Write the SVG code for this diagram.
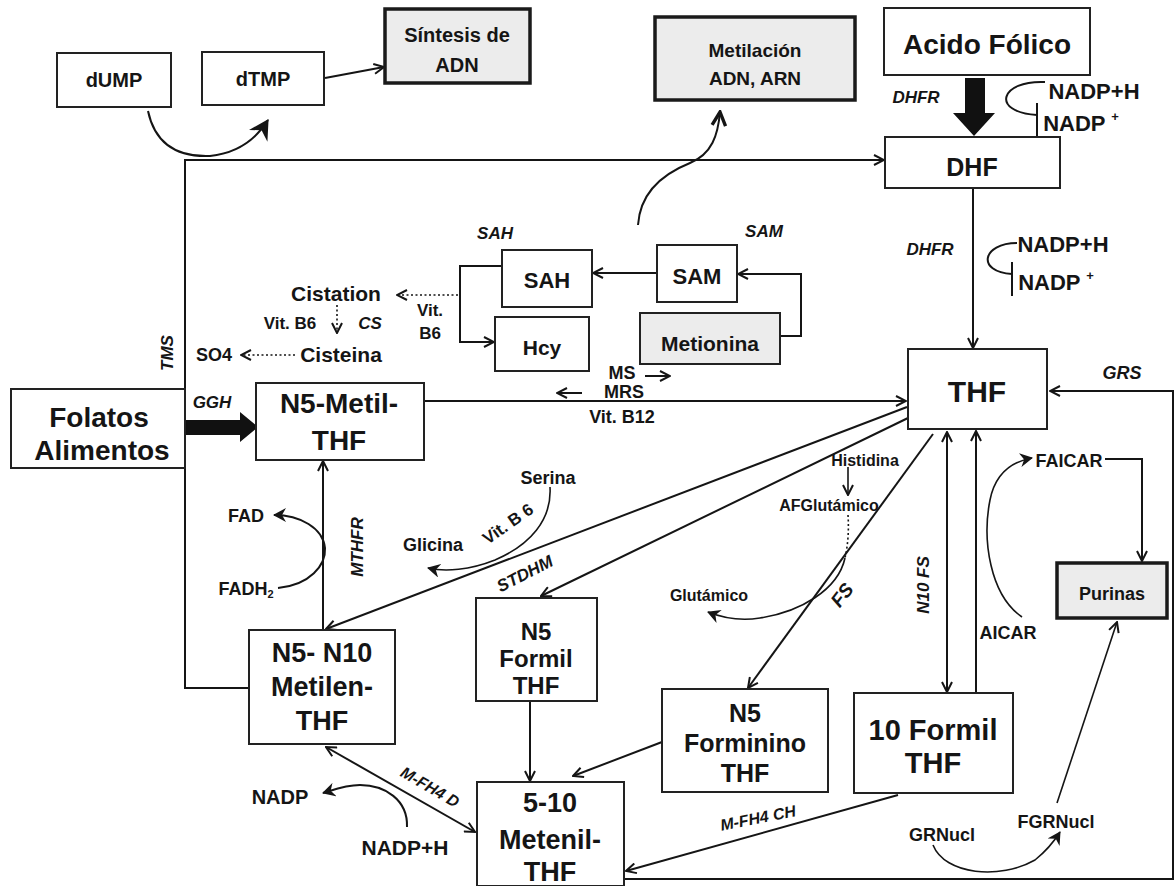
<svg xmlns="http://www.w3.org/2000/svg" width="1176" height="886" viewBox="0 0 1176 886">
<defs>
<style>
text{font-family:"Liberation Sans",Arial,sans-serif;font-weight:bold;fill:#151515;text-anchor:middle;dominant-baseline:central}
.box{fill:#fff;stroke:#222;stroke-width:2}
.gbox{fill:#ececec;stroke:#1a1a1a;stroke-width:3.5}
.gbox2{fill:#ececec;stroke:#222;stroke-width:2}
.ln{fill:none;stroke:#151515;stroke-width:2}
.thin{fill:none;stroke:#151515;stroke-width:1.6}
.dot{fill:none;stroke:#151515;stroke-width:1.6;stroke-dasharray:2 2.5}
.it{font-style:italic}
.s{font-size:16px}
.m{font-size:18px}
</style>
<marker id="a" viewBox="0 0 12 12" refX="11" refY="6" markerWidth="12" markerHeight="12" markerUnits="userSpaceOnUse" orient="auto-start-reverse">
<path d="M1,1 L11,6 L1,11" fill="none" stroke="#151515" stroke-width="2"/>
</marker>
<marker id="f" viewBox="0 0 14 14" refX="12" refY="7" markerWidth="14" markerHeight="14" markerUnits="userSpaceOnUse" orient="auto">
<path d="M0,0 L13,7 L0,14 L4,7 Z" fill="#151515"/>
</marker>
<marker id="fb" viewBox="0 0 20 20" refX="17" refY="10" markerWidth="22" markerHeight="22" markerUnits="userSpaceOnUse" orient="auto">
<path d="M0,0 L18,10 L0,20 L6,10 Z" fill="#151515"/>
</marker>
<marker id="ab" viewBox="0 0 16 16" refX="14" refY="8" markerWidth="18" markerHeight="18" markerUnits="userSpaceOnUse" orient="auto">
<path d="M2,2 L14,8 L2,14" fill="none" stroke="#151515" stroke-width="3"/>
</marker>
</defs>
<rect width="1176" height="886" fill="#fff"/>

<g id="connectors">
<path class="ln" d="M148,111 Q158,158 210,156 Q248,152 268,120" marker-end="url(#fb)"/>
<path class="ln" d="M325,78 L384,67" marker-end="url(#a)"/>
<path class="ln" d="M249,688 L185,688 L185,160 L884,160" marker-end="url(#a)"/>
<path class="ln" d="M638,225 C640,195 660,175 690,163 C712,154 718,135 720,112" stroke-width="2.5" marker-end="url(#ab)"/>
<path d="M965,78 L985,78 L985,113 L995,113 L974,136 L953,113 L965,113 Z" fill="#111"/>
<path class="ln" d="M1045,82 C1000,80 990,112 1037,115"/>
<path class="ln" d="M1037,103 L1037,137"/>
<path class="ln" d="M973,189 L973,348" marker-end="url(#a)"/>
<path class="ln" d="M1017,243 C982,243 976,272 1012,274"/>
<path class="ln" d="M1012,262 L1012,296"/>
<path class="ln" d="M657,273 L593,273" marker-end="url(#a)"/>
<path class="ln" d="M780,336 L801,336 L801,274 L738,274" marker-end="url(#a)"/>
<path class="ln" d="M502,266 L460,266 L460,342 L494,342" marker-end="url(#a)"/>
<path class="dot" d="M458,295 L397,295" marker-end="url(#a)"/>
<path class="dot" d="M337,305 L337,333" marker-end="url(#a)"/>
<path class="dot" d="M295,355 L241,355" marker-end="url(#a)"/>
<path d="M177,420 L240,420 L240,412 L258,427 L240,442 L240,435 L177,435 Z" fill="#111"/>
<path class="ln" d="M424,401 L906,401" marker-end="url(#a)"/>
<path class="ln" d="M645,376 L670,376" marker-end="url(#a)"/>
<path class="ln" d="M582,393 L557,393" marker-end="url(#a)"/>
<path class="ln" d="M323,630 L323,461" marker-end="url(#a)"/>
<path class="ln" d="M278,588 C310,585 326,565 325,548 C323,528 300,515 274,515" marker-end="url(#f)"/>
<path class="ln" d="M907,407 L326,629" marker-end="url(#a)"/>
<path class="ln" d="M908,418 L541,596" marker-end="url(#a)"/>
<path class="ln" d="M933,434 L748,688" marker-end="url(#a)"/>
<path class="thin" d="M848,467 L848,495" marker-end="url(#a)"/>
<path class="dot" d="M848,515 C849,530 848,545 845,558"/>
<path class="thin" d="M845,558 C838,590 800,612 760,618 C735,622 718,616 708,612" marker-end="url(#f)"/>
<path class="thin" d="M550,487 C552,520 530,545 495,560 C470,570 445,572 428,568" marker-end="url(#f)"/>
<path class="ln" d="M530,701 L530,781" marker-end="url(#a)"/>
<path class="ln" d="M662,742 L573,776" marker-end="url(#a)"/>
<path class="ln" d="M947,432 L947,692" marker-start="url(#a)" marker-end="url(#a)"/>
<path class="ln" d="M976,693 L976,431" marker-end="url(#a)"/>
<path class="thin" d="M1022,617 C990,595 982,540 990,500 C995,475 1010,462 1032,458" marker-end="url(#f)"/>
<path class="ln" d="M1105,459 L1142,459 L1142,561" marker-end="url(#a)"/>
<path class="thin" d="M1057,803 L1117,622" marker-end="url(#a)"/>
<path class="thin" d="M933,845 C945,875 1000,880 1035,860 C1045,852 1055,840 1060,832" marker-end="url(#f)"/>
<path class="ln" d="M625,879 L1173,879 L1173,391 L1050,391" marker-end="url(#a)"/>
<path class="ln" d="M898,795 L626,871" marker-end="url(#a)"/>
<path class="ln" d="M326,747 L475,832" marker-start="url(#a)" marker-end="url(#a)"/>
<path class="ln" d="M407,827 C408,800 385,785 360,785 C345,785 333,790 323,793" marker-end="url(#f)"/>
</g>

<g id="dUMP"><rect class="box" x="57" y="53" width="114" height="54"/><text x="114" y="80" font-size="20">dUMP</text></g>
<g id="dTMP"><rect class="box" x="202" y="52" width="122" height="53"/><text x="263" y="79" font-size="20">dTMP</text></g>
<g id="sintesis"><rect class="gbox" x="385" y="9" width="145" height="74"/><text x="457" y="35" font-size="20">Síntesis de</text><text x="457" y="65" font-size="20">ADN</text></g>
<g id="metilacion"><rect class="gbox" x="655" y="17" width="200" height="83"/><text x="755" y="50" font-size="19">Metilación</text><text x="755" y="78" font-size="19">ADN, ARN</text></g>
<g id="acido"><rect class="box" x="884" y="8" width="206" height="67"/><text x="987" y="44" font-size="28">Acido Fólico</text></g>
<g id="DHF"><rect class="box" x="885" y="137" width="175" height="51"/><text x="972" y="167" font-size="25">DHF</text></g>
<g id="SAH"><rect class="box" x="502" y="250" width="90" height="57"/><text x="547" y="280" font-size="22">SAH</text></g>
<g id="SAM"><rect class="box" x="657" y="245" width="80" height="57"/><text x="697" y="276" font-size="22">SAM</text></g>
<g id="Hcy"><rect class="box" x="495" y="317" width="94" height="54"/><text x="542" y="347" font-size="21">Hcy</text></g>
<g id="metionina"><rect class="gbox2" x="640" y="313" width="140" height="51"/><text x="710" y="343" font-size="21">Metionina</text></g>
<g id="folatos"><rect class="box" x="11" y="389" width="174" height="79"/><text x="99" y="417" font-size="28">Folatos</text><text x="102" y="450" font-size="28">Alimentos</text></g>
<g id="N5metil"><rect class="box" x="256" y="383" width="168" height="77"/><text x="339" y="403" font-size="28">N5-Metil-</text><text x="339" y="440" font-size="28">THF</text></g>
<g id="THF"><rect class="box" x="908" y="349" width="139" height="80"/><text x="977" y="391" font-size="30">THF</text></g>
<g id="N5N10"><rect class="box" x="249" y="630" width="146" height="114"/><text x="322" y="653" font-size="27">N5- N10</text><text x="322" y="687" font-size="27">Metilen-</text><text x="322" y="721" font-size="27">THF</text></g>
<g id="N5formil"><rect class="box" x="476" y="598" width="121" height="103"/><text x="536" y="631" font-size="24">N5</text><text x="536" y="658" font-size="24">Formil</text><text x="536" y="685" font-size="24">THF</text></g>
<g id="N5forminino"><rect class="box" x="662" y="689" width="166" height="103"/><text x="745" y="713" font-size="25">N5</text><text x="745" y="743" font-size="25">Forminino</text><text x="745" y="773" font-size="25">THF</text></g>
<g id="formil10"><rect class="box" x="854" y="693" width="159" height="100"/><text x="933" y="730" font-size="29">10 Formil</text><text x="933" y="763" font-size="29">THF</text></g>
<g id="metenil"><rect class="box" x="477" y="782" width="147" height="104"/><text x="550" y="803" font-size="27">5-10</text><text x="550" y="840" font-size="27">Metenil-</text><text x="550" y="872" font-size="27">THF</text></g>
<g id="purinas"><rect class="gbox" x="1057" y="563" width="110" height="55"/><text x="1112" y="594" font-size="18">Purinas</text></g>

<g id="labels">
<text class="it" x="916" y="97" font-size="17">DHFR</text>
<text x="1094" y="91" font-size="22">NADP+H</text>
<text x="1081" y="123" font-size="22">NADP <tspan font-size="13" dy="-7">+</tspan></text>
<text class="it" x="930" y="249" font-size="17">DHFR</text>
<text x="1063" y="244" font-size="22">NADP+H</text>
<text x="1056" y="282" font-size="22">NADP <tspan font-size="13" dy="-7">+</tspan></text>
<text class="it" x="495" y="233" font-size="17">SAH</text>
<text class="it" x="764" y="231" font-size="17">SAM</text>
<text x="336" y="293" font-size="21">Cistation</text>
<text x="290" y="323" font-size="17">Vit. B6</text>
<text class="it" x="370" y="323" font-size="17">CS</text>
<text x="430" y="310" font-size="17">Vit.</text>
<text x="430" y="333" font-size="17">B6</text>
<text x="341" y="354" font-size="21">Cisteina</text>
<text x="214" y="355" font-size="18">SO4</text>
<text class="it" transform="translate(167,353) rotate(-90)" font-size="17">TMS</text>
<text class="it" x="212" y="402" font-size="17">GGH</text>
<text x="622" y="373" font-size="18">MS</text>
<text x="624" y="392" font-size="18">MRS</text>
<text x="622" y="417" font-size="18">Vit. B12</text>
<text class="it" x="1122" y="373" font-size="18">GRS</text>
<text class="it" transform="translate(357,547) rotate(-90)" font-size="17">MTHFR</text>
<text x="246" y="516" font-size="18">FAD</text>
<text x="246" y="589" font-size="18">FADH<tspan font-size="11" dy="5">2</tspan></text>
<text x="548" y="478" font-size="18">Serina</text>
<text x="433" y="545" font-size="18">Glicina</text>
<text transform="translate(508,524) rotate(-35)" font-size="17">Vit. B 6</text>
<text class="it" transform="translate(525,574) rotate(-27)" font-size="17">STDHM</text>
<text x="865" y="460" font-size="16">Histidina</text>
<text x="829" y="505" font-size="16">AFGlutámico</text>
<text x="709" y="595" font-size="16">Glutámico</text>
<text class="it" transform="translate(842,595) rotate(-52)" font-size="19">FS</text>
<text class="it" transform="translate(923,585) rotate(-90)" font-size="17">N10 FS</text>
<text x="1069" y="461" font-size="18">FAICAR</text>
<text x="1008" y="633" font-size="18">AICAR</text>
<text x="1056" y="822" font-size="18">FGRNucl</text>
<text x="942" y="835" font-size="18">GRNucl</text>
<text class="it" transform="translate(758,818) rotate(-11)" font-size="16">M-FH4 CH</text>
<text class="it" transform="translate(430,787) rotate(30)" font-size="16">M-FH4 D</text>
<text x="280" y="797" font-size="20">NADP</text>
<text x="405" y="847" font-size="21">NADP+H</text>
</g>
</svg>
